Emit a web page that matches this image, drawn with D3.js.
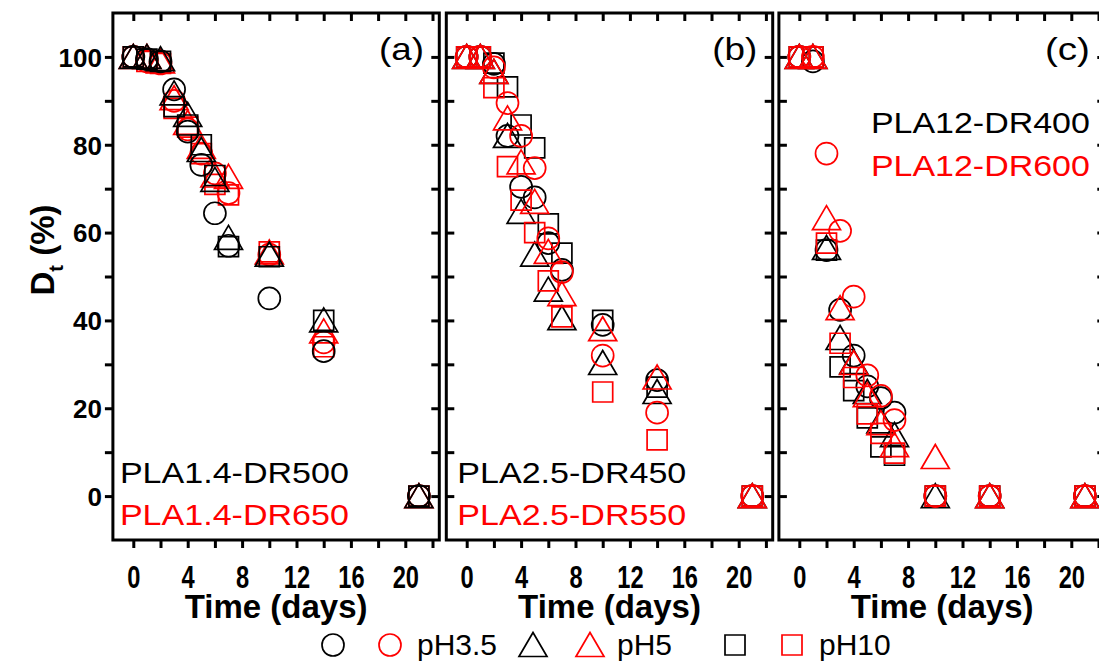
<!DOCTYPE html>
<html>
<head>
<meta charset="utf-8">
<script src="https://cdn.jsdelivr.net/npm/d3@7/dist/d3.min.js"></script>
<style>
  body { margin: 0; background: #fff; }
  svg { display: block; }
</style>
</head>
<body>
<svg id="chart"></svg>
<script>
// sampling days, shared by every series
var days = [0, 1, 2, 3, 4, 5, 6, 7, 10, 14, 21];
var xTicks = [0, 4, 8, 12, 16, 20];
var yTicks = [0, 20, 40, 60, 80, 100];
var phLabels = ['pH3.5', 'pH5', 'pH10'];

// panel (a): PLA1.4-DR500 (black) and PLA1.4-DR650 (red)
var a_k_ph35 = [100, 99.5, 99, 92.6, 83, 75.4, 64.4, 57, 45, 33, 0];
var a_r_ph35 = [100, 99, 98.5, 90, 83.5, 78, 73.5, 69, 55, 35, 0];
var a_k_ph5  = [100, 100, 99.5, 91.7, 86.8, 78.8, 72, 58.8, 55, 40, 0];
var a_r_ph5  = [100, 100, 99, 90.6, 85, 79.5, 73, 72.7, 55.5, 37.5, 0];
var a_k_ph10 = [100, 99.5, 99, 88.7, 84.5, 80, 73, 56.8, 54.5, 40, 0];
var a_r_ph10 = [100, 99, 98.5, 88.3, 84, 78, 71, 68.6, 55.6, 34, 0];

// panel (b): PLA2.5-DR450 (black) and PLA2.5-DR550 (red)
var b_k_ph35 = [100, 100, 98.4, 82, 70.4, 68, 57.6, 51.5, 39, 26.4, 0];
var b_r_ph35 = [100, 100, 97.6, 89.5, 82, 74.7, 58.7, 51, 32, 19, 0];
var b_k_ph5  = [100, 100, 96.6, 82, 64.7, 55, 47, 40.5, 30.3, 23.7, 0];
var b_r_ph5  = [100, 100, 96.6, 86, 76, 67, 55.6, 46, 38, 27, 0];
var b_k_ph10 = [100, 100, 98.6, 93.2, 84.5, 79.3, 62, 55.3, 40, 24.8, 0];
var b_r_ph10 = [100, 100, 93, 75, 67.4, 60, 49, 40.8, 23.7, 12.8, 0];

// panel (c): PLA12-DR400 (black) and PLA12-DR600 (red)
var c_k_ph35 = [100, 99, 56, 42.4, 32, 25, 22.3, 19, 0, 0, 0];
var c_r_ph35 = [100, 100, 78, 60.4, 45.4, 27.5, 22.8, 17.3, 0, 0, 0];
var c_k_ph5  = [100, 100, 56.5, 36, 30.5, 23.7, 17, 13.9, 0, 0, 0];
var c_r_ph5  = [100, 100, 63.3, 42.8, 30.3, 23, 16.6, 11.6, 8.9, 0, 0];
var c_k_ph10 = [100, 100, 56, 29.4, 24, 17.8, 11.2, 9.3, 0, 0, 0];
var c_r_ph10 = [100, 100, 57.6, 34.8, 27, 18.7, 14.3, 9.8, 0, 0, 0];

var BLACK = '#000', RED = '#ff0000';

var width = 1099, height = 662,
    plotTop = 13, plotBottom = 540,
    panelW = 326.4;

var svg = d3.select('#chart').attr('width', width).attr('height', height)
    .style('font-family', '"Liberation Sans", Arial, sans-serif');

var y = d3.scaleLinear().domain([-10, 110]).range([plotBottom, plotTop]);

function shapePath(shape) {
  if (shape === 'circle') return 'M11,0A11,11 0 1,1 -11,0A11,11 0 1,1 11,0Z';
  if (shape === 'triangle') return 'M0,-12.5L14,11.5L-14,11.5Z';
  return 'M-10,-10H10V10H-10Z';
}

// series in drawing order (panel a has black on top, b and c red on top)
var panels = [
  {x0: 112.9, tag: '(a)', names: ['PLA1.4-DR500', 'PLA1.4-DR650'], namesX: 7, namesY: [483, 525], namesW: 229, leftLabels: true,
   series: [[a_r_ph35, 'circle', RED], [a_r_ph5, 'triangle', RED], [a_r_ph10, 'square', RED],
            [a_k_ph35, 'circle', BLACK], [a_k_ph5, 'triangle', BLACK], [a_k_ph10, 'square', BLACK]]},
  {x0: 446.3, tag: '(b)', names: ['PLA2.5-DR450', 'PLA2.5-DR550'], namesX: 11, namesY: [483, 525], namesW: 229, leftLabels: false,
   series: [[b_k_ph35, 'circle', BLACK], [b_k_ph5, 'triangle', BLACK], [b_k_ph10, 'square', BLACK],
            [b_r_ph35, 'circle', RED], [b_r_ph5, 'triangle', RED], [b_r_ph10, 'square', RED]]},
  {x0: 778.9, tag: '(c)', names: ['PLA12-DR400', 'PLA12-DR600'], namesX: 92, namesY: [133, 176], namesW: 219, leftLabels: false,
   series: [[c_k_ph35, 'circle', BLACK], [c_k_ph5, 'triangle', BLACK], [c_k_ph10, 'square', BLACK],
            [c_r_ph35, 'circle', RED], [c_r_ph5, 'triangle', RED], [c_r_ph10, 'square', RED]]}
];

var minorX = d3.range(0, 23, 2), minorY = d3.range(0, 101, 10);

panels.forEach(function(p) {
  var x = d3.scaleLinear().domain([-1.5, 22.5]).range([p.x0, p.x0 + panelW]);
  var g = svg.append('g');

  // markers
  p.series.forEach(function(s) {
    g.selectAll(null)
      .data(days.map(function(d, i) { return {d: d, v: s[0][i]}; }))
      .enter().append('path')
      .attr('d', shapePath(s[1]))
      .attr('transform', function(d) { return 'translate(' + x(d.d) + ',' + y(d.v) + ')'; })
      .attr('fill', 'none')
      .attr('stroke', s[2])
      .attr('stroke-width', 1.7);
  });

  // axes
  var bx = g.append('g').attr('transform', 'translate(0,' + plotBottom + ')')
    .call(d3.axisBottom(x).tickValues(minorX).tickSize(8).tickSizeOuter(0)
      .tickFormat(function(d) { return xTicks.indexOf(d) >= 0 ? d : ''; }));
  bx.selectAll('text').attr('dy', null).attr('y', 0)
    .attr('transform', 'translate(0,48) scale(0.74,1)')
    .style('font-size', '32px').style('font-weight', 'bold').attr('fill', '#000');

  g.append('g').attr('transform', 'translate(0,' + plotTop + ')')
    .call(d3.axisTop(x).tickValues(minorX).tickSize(-8).tickSizeOuter(0).tickFormat(''));

  var ly = g.append('g').attr('transform', 'translate(' + p.x0 + ',0)')
    .call(d3.axisLeft(y).tickValues(minorY).tickSize(p.leftLabels ? 8 : -8).tickSizeOuter(0)
      .tickFormat(function(d) { return p.leftLabels && yTicks.indexOf(d) >= 0 ? d : ''; }));
  ly.selectAll('text').attr('x', -11).attr('dy', '0.36em')
    .style('font-size', '26px').style('font-weight', 'bold').attr('fill', '#000');

  g.append('g').attr('transform', 'translate(' + (p.x0 + panelW) + ',0)')
    .call(d3.axisRight(y).tickValues(minorY).tickSize(-8).tickSizeOuter(0).tickFormat(''));

  g.selectAll('.domain').remove();
  g.selectAll('.tick line').attr('stroke', '#000').attr('stroke-width', 3);

  g.append('rect')
    .attr('x', p.x0).attr('y', plotTop)
    .attr('width', panelW).attr('height', plotBottom - plotTop)
    .attr('fill', 'none').attr('stroke', '#000').attr('stroke-width', 3);

  // texts
  g.append('text').attr('x', p.x0 + 311).attr('y', 60)
    .attr('text-anchor', 'end').style('font-size', '32px')
    .attr('textLength', 45).attr('lengthAdjust', 'spacingAndGlyphs').text(p.tag);
  g.append('text').attr('x', p.x0 + p.namesX).attr('y', p.namesY[0])
    .style('font-size', '30px').attr('fill', BLACK)
    .attr('textLength', p.namesW).attr('lengthAdjust', 'spacingAndGlyphs').text(p.names[0]);
  g.append('text').attr('x', p.x0 + p.namesX).attr('y', p.namesY[1])
    .style('font-size', '30px').attr('fill', RED)
    .attr('textLength', p.namesW).attr('lengthAdjust', 'spacingAndGlyphs').text(p.names[1]);

  g.append('text').attr('x', p.x0 + panelW / 2).attr('y', 618)
    .attr('text-anchor', 'middle').style('font-size', '33px').style('font-weight', 'bold')
    .text('Time (days)');
});

// y title
var yt = svg.append('text')
  .attr('transform', 'translate(54,250) rotate(-90)')
  .attr('text-anchor', 'middle')
  .style('font-size', '33px').style('font-weight', 'bold');
yt.append('tspan').text('D');
yt.append('tspan').attr('dy', 9).style('font-size', '20px').text('t');
yt.append('tspan').attr('dy', -9).text(' (%)');

// legend
var legendItems = [
  {shape: 'circle', color: BLACK, x: 333}, {shape: 'circle', color: RED, x: 390, label: phLabels[0]},
  {shape: 'triangle', color: BLACK, x: 533}, {shape: 'triangle', color: RED, x: 590, label: phLabels[1]},
  {shape: 'square', color: BLACK, x: 735}, {shape: 'square', color: RED, x: 792, label: phLabels[2]}
];
var leg = svg.append('g');
legendItems.forEach(function(it) {
  leg.append('path').attr('d', shapePath(it.shape))
    .attr('transform', 'translate(' + it.x + ',645)')
    .attr('fill', 'none').attr('stroke', it.color).attr('stroke-width', 1.7);
  if (it.label) {
    leg.append('text').attr('x', it.x + 27).attr('y', 655)
      .style('font-size', '30px').text(it.label);
  }
});
</script>
</body>
</html>
